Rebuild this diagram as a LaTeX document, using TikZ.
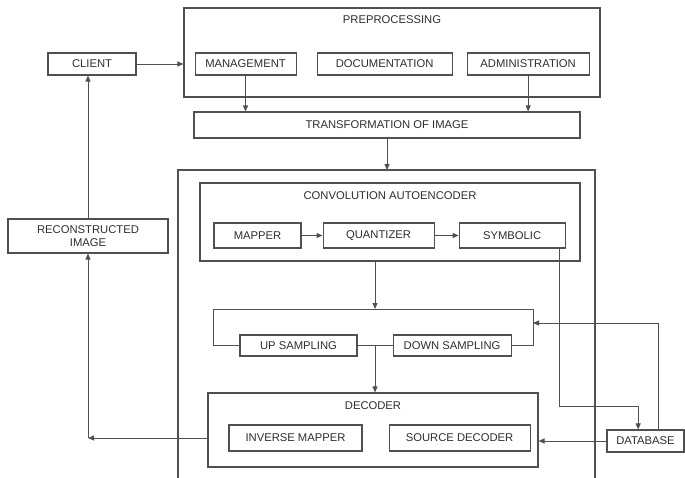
\documentclass[tikz,border=0pt]{standalone}
\usepackage{fontspec}
\setmainfont{Liberation Sans}
\usetikzlibrary{arrows.meta, positioning, calc}

\definecolor{linegray}{HTML}{505050}
\definecolor{textgray}{HTML}{2E2E2E}

\begin{document}
\begin{tikzpicture}[
    font=\fontsize{9.6}{11.5}\selectfont,
    box/.style={rectangle, draw=linegray, line width=0.9pt, text=textgray, align=center, inner sep=1pt, minimum height=0.66cm},
    group/.style={rectangle, draw=linegray, line width=0.9pt},
    title/.style={inner sep=0pt, text=textgray},
    arrow/.style={-{Triangle[length=1.8mm, width=1.5mm]}, draw=linegray, line width=0.85pt},
    link/.style={draw=linegray, line width=0.85pt},
]
\useasboundingbox (0,0) rectangle (20.55,-14.31);

% Client and preprocessing
\node[box, minimum width=2.64cm] (client) at (2.76,-1.92) {CLIENT};
\node[box, minimum width=3.03cm, right=1.74cm of client] (mgmt) {MANAGEMENT};
\node[box, minimum width=4.05cm, right=0.6cm of mgmt] (docu) {DOCUMENTATION};
\node[box, minimum width=3.66cm, right=0.42cm of docu] (admin) {ADMINISTRATION};
\node[group, minimum width=12.48cm, minimum height=2.67cm] (prep) at (11.76,-1.575) {};
\node[title] at ([yshift=-0.36cm]prep.north) {PREPROCESSING};
\node[box, minimum width=11.58cm, minimum height=0.78cm] (trans) at (11.61,-3.75) {TRANSFORMATION OF IMAGE};

% Outer block (runs off the bottom)
\coordinate (outtl) at (5.34,-5.1);
\coordinate (outtr) at (17.85,-5.1);
\coordinate (outbl) at (5.34,-14.6);
\coordinate (outbr) at (17.85,-14.6);
\draw[link, line width=0.9pt] (outbl) |- (outtr) -- (outbr);

% Encoder
\node[group, minimum width=11.4cm, minimum height=2.34cm] (conv) at (11.7,-6.66) {};
\node[title] at ([yshift=-0.39cm]conv.north) {CONVOLUTION AUTOENCODER};
\node[box, minimum width=2.61cm, minimum height=0.75cm] (mapper) at (7.725,-7.065) {MAPPER};
\node[box, minimum width=3.33cm, minimum height=0.75cm, right=0.63cm of mapper] (quant) {QUANTIZER};
\node[box, minimum width=3.18cm, minimum height=0.75cm, right=0.72cm of quant] (symb) {SYMBOLIC};

% Sampling
\node[box, minimum width=3.51cm, minimum height=0.63cm] (ups) at (8.955,-10.365) {UP SAMPLING};
\node[box, minimum width=3.54cm, minimum height=0.63cm, right=1.05cm of ups] (downs) {DOWN SAMPLING};
\coordinate (samptl) at (6.39,-9.27);
\coordinate (samptr) at (15.99,-9.27);
\coordinate (mid) at ($(ups.east)!0.5!(downs.west)$);

% Decoder
\node[group, minimum width=9.9cm, minimum height=2.22cm] (decoder) at (11.19,-12.9) {};
\node[title] at ([yshift=-0.39cm]decoder.north) {DECODER};
\node[box, minimum width=3.99cm, minimum height=0.78cm] (invmap) at (8.865,-13.14) {INVERSE MAPPER};
\node[box, minimum width=4.23cm, minimum height=0.78cm, right=0.78cm of invmap] (srcdec) {SOURCE DECODER};

% Side nodes
\node[box, minimum width=2.31cm] (db) at (19.365,-13.23) {DATABASE};
\node[box, minimum width=4.8cm, minimum height=1.02cm] (recon) at (2.64,-7.08) {RECONSTRUCTED\\IMAGE};

% Arrows - top flow
\draw[arrow] (client) -- (client -| prep.west);
\draw[arrow] (mgmt) -- (mgmt |- trans.north);
\draw[arrow] (admin) -- (admin |- trans.north);
\draw[arrow] (trans) -- (trans |- outtl);

% Arrows - encoder and sampling
\draw[arrow] (mapper) -- (quant);
\draw[arrow] (quant) -- (symb);
\draw[arrow] (conv.south -| mid) -- (samptl -| mid);
\draw[link] (ups.west) -| (samptl) -- (samptr) |- (downs.east);
\draw[link] (ups) -- (downs);
\draw[arrow] (mid) -- (decoder.north -| mid);

% Database loop
\coordinate (symbout) at ([xshift=-0.18cm]symb.south east);
\coordinate (dbin) at ([xshift=-0.22cm]db.north);
\coordinate (dbout) at ([xshift=0.4cm]db.north);
\draw[arrow] (symbout) |- ([yshift=0.69cm]dbin) -- (dbin);
\draw[arrow] (dbout) |- ([yshift=-0.42cm]samptr);
\draw[arrow] (db) -- (db -| decoder.east);

% Output back to client
\coordinate (corner) at (invmap -| recon);
\draw[arrow] (invmap -| decoder.west) -- (corner);
\draw[arrow] (corner) -- (recon);
\draw[arrow] (recon) -- (recon |- client.south);

\end{tikzpicture}
\end{document}
